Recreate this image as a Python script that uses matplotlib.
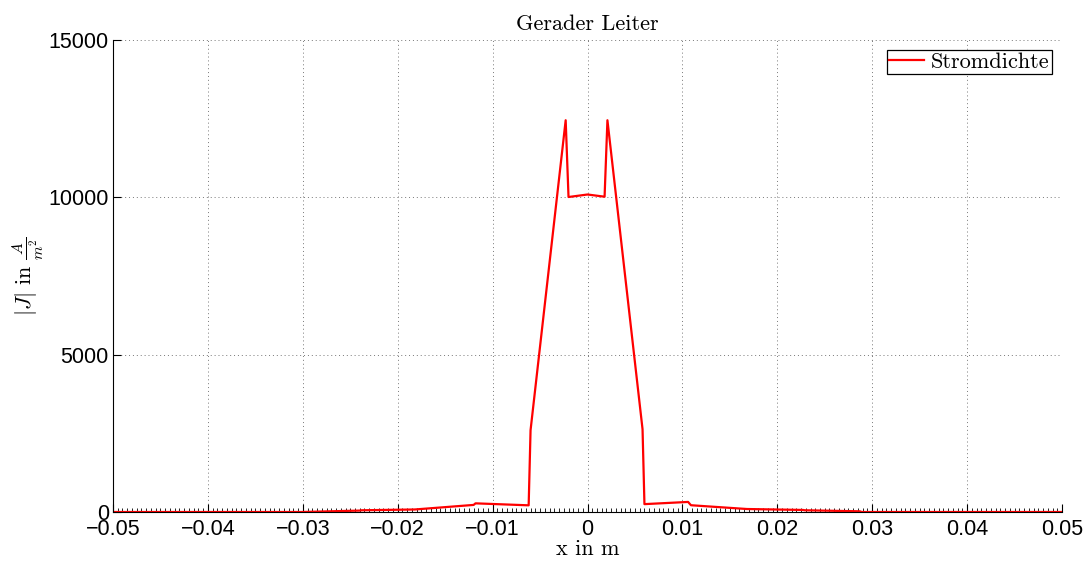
import matplotlib
matplotlib.use("Agg")
import matplotlib.pyplot as plt
from matplotlib.ticker import MultipleLocator

# data
x_vals = [-0.05, -0.0301, -0.0240, -0.0238, -0.0182, -0.0120, -0.0118, -0.0062,
          -0.0060, -0.0023, -0.0020, 0.0, 0.0018, 0.0021, 0.0058, 0.0060,
          0.0106, 0.0109, 0.0168, 0.0227, 0.0229, 0.0287, 0.0289, 0.05]
j_vals = [0, 0, 45, 55, 80, 225, 275, 212, 2600, 12450, 10010, 10090, 10020,
          12450, 2630, 250, 320, 215, 95, 65, 55, 22, 0, 0]

x_ticks = [-0.05, -0.04, -0.03, -0.02, -0.01, 0, 0.01, 0.02, 0.03, 0.04, 0.05]
x_ticklabels = ['\u22120.05', '\u22120.04', '\u22120.03', '\u22120.02', '\u22120.01',
                '0', '0.01', '0.02', '0.03', '0.04', '0.05']
y_ticks = [0, 5000, 10000, 15000]

plt.rcParams['mathtext.fontset'] = 'cm'

fig = plt.figure(figsize=(10.88, 5.64), dpi=100)
ax = fig.add_axes([113/1088, 1-512/564, (1062-113)/1088, (512-40)/564])

ax.plot(x_vals, j_vals, color='#ff0000', lw=1.6, label='Stromdichte')

ax.set_xlim(-0.05, 0.05)
ax.set_ylim(0, 15000)
ax.set_xticks(x_ticks)
ax.set_xticklabels(x_ticklabels)
ax.set_yticks(y_ticks)
ax.xaxis.set_minor_locator(MultipleLocator(0.0005))

for lab in ax.get_xticklabels() + ax.get_yticklabels():
    lab.set_fontfamily('Liberation Sans')
    lab.set_fontsize(15.5)

ax.spines['top'].set_visible(False)
ax.spines['right'].set_visible(False)
ax.tick_params(which='both', direction='in', top=False, right=False, colors='black')
ax.tick_params(axis='x', which='major', length=6, width=0.8, pad=5)
ax.tick_params(axis='y', which='major', length=6, width=0.8, pad=3)
ax.tick_params(which='minor', length=3, width=0.6)
ax.grid(True, which='major', linestyle=(0, (1, 3)), color='#777777', lw=0.7)
ax.spines['left'].set_linewidth(0.8)
ax.spines['bottom'].set_linewidth(0.8)

ax.set_title('Gerader Leiter', family='cmr10', fontsize=16, pad=7)
ax.set_xlabel('x in m', family='cmr10', fontsize=16, labelpad=0)
ax.set_ylabel(r'$|J|\ \mathrm{in}\ \frac{A}{m^2}$', fontsize=16, labelpad=2)

leg = ax.legend(loc='upper right', prop=dict(family='cmr10', size=16),
                fancybox=False, framealpha=1, edgecolor='black',
                borderpad=0.1, handlelength=1.6, handletextpad=0.3,
                borderaxespad=0.45)
leg.get_frame().set_linewidth(0.9)

fig.savefig('out.png', dpi=100)
